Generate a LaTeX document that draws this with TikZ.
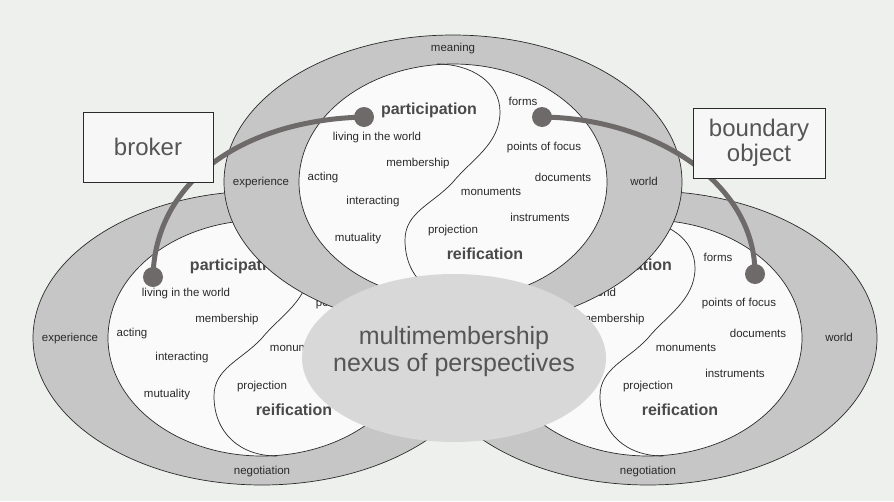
\documentclass[tikz,border=0pt]{standalone}
\usepackage{fontspec}
\setmainfont{Liberation Sans}

\definecolor{page}{HTML}{EEF0EE}
\definecolor{ringgray}{HTML}{C6C6C6}
\definecolor{hubgray}{HTML}{D8D8D8}
\definecolor{ink}{HTML}{2A2A2A}
\definecolor{linkgray}{HTML}{6E6A6A}

\tikzset{
  band/.style={fill=ringgray,draw=ink,line width=0.7pt},
  hole/.style={fill=white!98!black,draw=ink,line width=0.7pt},
  edge/.style={draw=ink,line width=0.7pt},
  lbl/.style={font=\fontsize{11.5}{13}\selectfont,text=ink,inner sep=0pt},
  head/.style={font=\bfseries\fontsize{16}{18}\selectfont,text=ink!85,inner sep=0pt},
  bigtxt/.style={font=\fontsize{25}{27}\selectfont,text=ink!80,align=center,inner sep=0pt},
  tag/.style={draw=ink,line width=0.8pt,fill=white!97!black,font=\fontsize{24}{25}\selectfont,
    text=ink!80,align=center,minimum height=70,inner sep=2pt},
  link/.style={draw=linkgray,line width=5pt},
  knob/.style={fill=linkgray}
}

% participation side labels (left half of a ring)
\newcommand{\partlabels}[1]{%
  \node[lbl] (#1-exp)    at (-192,1)  {experience};
  \node[lbl] (#1-acting) at (-130,-4) {acting};
  \node[lbl] (#1-inter)  at (-80,20)  {interacting};
  \node[lbl] (#1-mutual) at (-95,57)  {mutuality};}
% reification side labels (right half of a ring)
\newcommand{\reiflabels}[1]{%
  \node[lbl] (#1-forms)  at (70,-81)  {forms};
  \node[lbl] (#1-docs)   at (110,-5)  {documents};
  \node[lbl] (#1-instr)  at (87,35)   {instruments};
  \node[lbl] (#1-world)  at (191,-1)  {world};}

% one community of practice: ring, yin-yang split, shared labels, extras
\newcommand{\practice}[4]{%
  \begin{scope}[shift={(#1,#2)}]
    \path[band] (0,0) ellipse [x radius=229, y radius=147];
    \path[hole] (0,0) ellipse [x radius=154, y radius=118];
    \draw[edge] (-16,-118) .. controls (18,-118) and (47,-100) .. (47,-70)
      .. controls (47,-38) and (18,-22) .. (0,0)
      .. controls (-20,22) and (-48,30) .. (-48,58)
      .. controls (-48,95) and (-22,118) .. (15,118);
    \node[head] (#3-part)   at (-24,-72) {participation};
    \node[lbl]  (#3-living) at (-76,-44) {living in the world};
    \node[lbl]  (#3-member) at (-35,-18) {membership};
    \node[head] (#3-reif)   at (32,72)   {reification};
    \node[lbl]  (#3-proj)   at (0,49)    {projection};
    \node[lbl]  (#3-focus)  at (91,-34)  {points of focus};
    \node[lbl]  (#3-monu)   at (38,10)   {monuments};
    #4
  \end{scope}}

\begin{document}
\begin{tikzpicture}[x=1pt,y=-1pt]
  \fill[page] (0,0) rectangle (894,501);
  \useasboundingbox (0,0) rectangle (894,501);

  % the three practices, top one last
  \practice{262}{338}{left}{\partlabels{left}
    \node[lbl] (left-nego) at (0,134) {negotiation};}
  \practice{648}{338}{right}{\reiflabels{right}
    \node[lbl] (right-nego) at (0,134) {negotiation};}
  \practice{453}{182}{top}{\partlabels{top}\reiflabels{top}
    \node[lbl] (top-meaning) at (0,-133) {meaning};}

  % overlap in the middle
  \fill[hubgray] (454,358) ellipse [x radius=152, y radius=84];
  \node[bigtxt] (nexus) at (454,352) {multimembership\\nexus of perspectives};

  % broker and boundary object connections
  \coordinate (brokerTop) at (364,117);
  \coordinate (brokerLow) at (153,277);
  \coordinate (objectTop) at (542,117);
  \coordinate (objectLow) at (755,274);
  \draw[link] (brokerTop) .. controls (245,120) and (155,180) .. (brokerLow);
  \draw[link] (objectTop) .. controls (650,118) and (755,180) .. (objectLow);
  \foreach \d in {brokerTop,brokerLow,objectTop,objectLow}
    \fill[knob] (\d) circle (10);

  \node[tag,minimum width=130] (broker)   at (148,147) {broker};
  \node[tag,minimum width=132] (boundary) at (759,143) {boundary\\object};
\end{tikzpicture}
\end{document}
